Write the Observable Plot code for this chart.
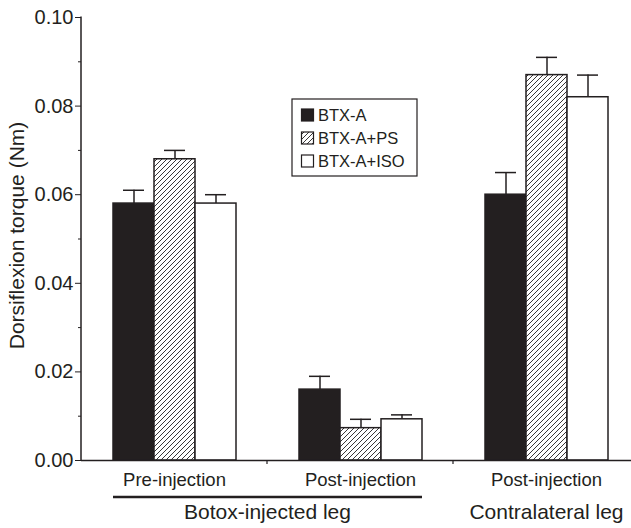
<!DOCTYPE html>
<html>
<head>
<meta charset="utf-8">
<script src="https://cdn.jsdelivr.net/npm/d3@7"></script>
<script src="https://cdn.jsdelivr.net/npm/@observablehq/plot@0.6"></script>
<style>
  html, body { margin: 0; padding: 0; background: #fff; }
  #chart svg { display: block; }
</style>
</head>
<body>
<div id="chart"></div>
<script>
// ---- data ----
const groups = ["pre", "post", "contra"];
const groupLabels = ["Pre-injection", "Post-injection", "Post-injection"];
const series = ["BTX-A", "BTX-A+PS", "BTX-A+ISO"];
const preMeans = [0.058, 0.068, 0.058];
const preErrors = [0.003, 0.002, 0.002];
const postMeans = [0.016, 0.0073, 0.0093];
const postErrors = [0.003, 0.002, 0.001];
const contraMeans = [0.060, 0.087, 0.082];
const contraErrors = [0.005, 0.004, 0.005];
const yTicks = [0, 0.02, 0.04, 0.06, 0.08, 0.10];
const yMinorTicks = [0.01, 0.03, 0.05, 0.07, 0.09];
const yLabel = "Dorsiflexion torque (Nm)";
const legGroups = [
  {label: "Botox-injected leg", from: "pre", to: "post"},
  {label: "Contralateral leg", from: "contra", to: "contra"}
];

const meansBy = {pre: preMeans, post: postMeans, contra: contraMeans};
const errorsBy = {pre: preErrors, post: postErrors, contra: contraErrors};
const table = groups.flatMap(g => series.map((s, i) => ({
  group: g, series: s, value: meansBy[g][i], err: errorsBy[g][i]
})));
const labelOf = Object.fromEntries(groups.map((g, i) => [g, groupLabels[i]]));

const FONT = "Liberation Sans, Arial, Helvetica, sans-serif";
const fills = ["#231f20", "url(#hatch)", "#ffffff"];

const chart = Plot.plot({
  width: 631,
  height: 528,
  marginLeft: 80,
  marginRight: -8,
  marginTop: 17,
  marginBottom: 68,
  style: {fontFamily: FONT, background: "#fff", color: "#231f20", overflow: "visible"},
  fx: {domain: groups, padding: 0, label: null},
  x: {domain: series, paddingInner: 0, paddingOuter: 0.755, axis: null},
  y: {domain: [0, 0.1], label: null},
  color: {domain: series, range: fills},
  marks: [
    Plot.axisY({ticks: yMinorTicks, tickSize: 3, tickFormat: () => "", label: null}),
    Plot.axisY({ticks: yTicks, tickSize: 6, tickPadding: 2, tickFormat: d3.format(".2f"), fontSize: 20, label: null}),
    Plot.axisFx({anchor: "bottom", tickSize: 0, tickPadding: 12, fontSize: 18.5, tickFormat: d => labelOf[d], label: null}),
    Plot.ruleX(table, {fx: "group", x: "series", y1: "value", y2: d => d.value + d.err, stroke: "#231f20", strokeWidth: 1.5}),
    Plot.tickY(table, {fx: "group", x: "series", y: d => d.value + d.err, stroke: "#231f20", strokeWidth: 1.5, insetLeft: 10, insetRight: 10}),
    Plot.barY(table, {fx: "group", x: "series", y: "value", fill: "series", stroke: "#231f20", strokeWidth: 1.5}),
    Plot.ruleY([0], {stroke: "#231f20", strokeWidth: 1.5})
  ]
});

const svg = d3.select(chart.tagName.toLowerCase() === "svg" ? chart : chart.querySelector("svg"));
svg.attr("overflow", "visible");

// enforce axis font sizes
svg.selectAll('g[aria-label="y-axis tick label"]').attr("font-size", 20).selectAll("text").attr("font-size", 20);
svg.selectAll('g[aria-label="fx-axis tick label"]').attr("font-size", 18.5).selectAll("text").attr("font-size", 18.5);

// hatch pattern
const defs = svg.insert("defs", ":first-child");
const pat = defs.append("pattern")
  .attr("id", "hatch").attr("patternUnits", "userSpaceOnUse")
  .attr("width", 5).attr("height", 5);
pat.append("rect").attr("width", 5).attr("height", 5).attr("fill", "#fff");
pat.append("path").attr("d", "M-1,1 L1,-1 M0,5 L5,0 M4,6 L6,4")
  .attr("stroke", "#231f20").attr("stroke-width", 0.9);

const fx = chart.scale("fx");
const xs = chart.scale("x");
const ys = chart.scale("y");
const y0 = ys.apply(0), y1 = ys.apply(0.1);
const left = fx.apply(groups[0]);

const extra = svg.append("g").attr("font-family", FONT).attr("fill", "#231f20");

// y axis line
extra.append("line").attr("x1", left).attr("x2", left).attr("y1", y1 - 0.5).attr("y2", y0)
  .attr("stroke", "#231f20").attr("stroke-width", 1.5);

// boundary ticks on x axis
groups.slice(1).forEach(g => {
  const bx = fx.apply(g);
  extra.append("line").attr("x1", bx).attr("x2", bx).attr("y1", y0).attr("y2", y0 + 4)
    .attr("stroke", "#231f20").attr("stroke-width", 1.2);
});

// y label
extra.append("text")
  .attr("transform", `translate(24,${(y0 + y1) / 2 - 3}) rotate(-90)`)
  .attr("text-anchor", "middle").attr("font-size", 21)
  .text(yLabel);

// leg group labels
const bw = xs.bandwidth;
const xOff = v => xs.apply(v) - Math.min(...xs.range);
legGroups.forEach(lg => {
  const a = fx.apply(lg.from) + xOff(series[0]);
  const b = fx.apply(lg.to) + xOff(series[series.length - 1]) + bw;
  if (lg.from !== lg.to) {
    extra.append("line").attr("x1", a).attr("x2", b).attr("y1", y0 + 37).attr("y2", y0 + 37)
      .attr("stroke", "#231f20").attr("stroke-width", 2.5);
  }
  const cx = (a + b) / 2;
  extra.append("text").attr("x", cx).attr("y", y0 + 59)
    .attr("text-anchor", "middle").attr("font-size", 21).text(lg.label);
});

// legend
const leg = extra.append("g").attr("transform", "translate(292,99)");
leg.append("rect").attr("x", 0).attr("y", 0).attr("width", 125).attr("height", 77)
  .attr("fill", "#fff").attr("stroke", "#231f20").attr("stroke-width", 1.2);
series.forEach((s, i) => {
  const cy = 16 + i * 23;
  leg.append("rect").attr("x", 9.5).attr("y", cy - 6).attr("width", 12).attr("height", 12)
    .attr("fill", fills[i]).attr("stroke", "#231f20").attr("stroke-width", 1.2);
  leg.append("text").attr("x", 26).attr("y", cy).attr("dy", "0.36em")
    .attr("text-anchor", "start").attr("font-size", 16.5).text(s);
});

document.getElementById("chart").appendChild(chart);
</script>
</body>
</html>
